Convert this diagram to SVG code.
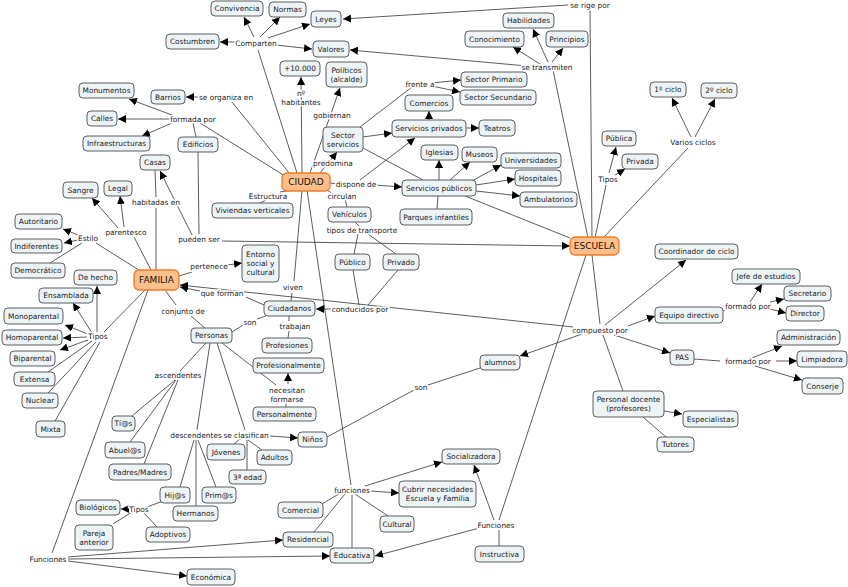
<svg xmlns="http://www.w3.org/2000/svg" width="848" height="587" viewBox="0 0 848 587">
<style>
.n rect{fill:#eef3f5;stroke:#5a5f60;stroke-width:1;}
.m rect{fill:#fdc08c;stroke:#f07b2a;stroke-width:1.3;}
text{font-family:"DejaVu Sans",Verdana,sans-serif;font-size:7.4px;fill:#222;text-anchor:middle;dominant-baseline:central;}
.m text{font-size:9px;fill:#111;}
.lb{paint-order:stroke;stroke:#fff;stroke-width:3px;stroke-linejoin:round;}
#connectors line{stroke:#333;stroke-width:0.8;}
#connectors line.a{marker-end:url(#ar);}
</style>
<defs>
<marker id="ar" viewBox="0 0 10 10" refX="10" refY="5" markerWidth="8" markerHeight="8" markerUnits="userSpaceOnUse" orient="auto"><path d="M0,0L10,5L0,10z" fill="#000"/></marker>
</defs>
<rect width="848" height="587" fill="#fff"/>
<g id="connectors">
<line x1="297" y1="173" x2="258" y2="50"/>
<line class="a" x1="254" y1="37" x2="244" y2="17"/>
<line class="a" x1="240" y1="42" x2="220" y2="42"/>
<line class="a" x1="260" y1="37" x2="280" y2="17"/>
<line class="a" x1="268" y1="38" x2="310" y2="24"/>
<line class="a" x1="276" y1="45" x2="312" y2="49"/>
<line x1="592" y1="238" x2="590" y2="9"/>
<line class="a" x1="568" y1="5" x2="343" y2="19"/>
<line x1="588" y1="238" x2="553" y2="70"/>
<line class="a" x1="548" y1="62" x2="533" y2="29"/>
<line class="a" x1="540" y1="64" x2="513" y2="47"/>
<line class="a" x1="552" y1="62" x2="563" y2="48"/>
<line class="a" x1="527" y1="66" x2="350" y2="50"/>
<line class="a" x1="302" y1="173" x2="301" y2="77"/>
<line class="a" x1="310" y1="173" x2="340" y2="88"/>
<line x1="290" y1="174" x2="232" y2="102"/>
<line class="a" x1="198" y1="97" x2="186" y2="97"/>
<line x1="285" y1="176" x2="200" y2="123"/>
<line class="a" x1="172" y1="115" x2="129" y2="99"/>
<line class="a" x1="170" y1="119" x2="118" y2="119"/>
<line class="a" x1="172" y1="123" x2="142" y2="136"/>
<line x1="193" y1="123" x2="196" y2="137"/>
<line class="a" x1="320" y1="173" x2="337" y2="152"/>
<line x1="330" y1="183" x2="338" y2="184"/>
<line class="a" x1="375" y1="185" x2="402" y2="187"/>
<line class="a" x1="360" y1="180" x2="415" y2="138"/>
<line class="a" x1="363" y1="137" x2="392" y2="133"/>
<line x1="360" y1="127" x2="412" y2="87"/>
<line class="a" x1="432" y1="83" x2="461" y2="80"/>
<line class="a" x1="432" y1="86" x2="460" y2="92"/>
<line x1="363" y1="148" x2="423" y2="180"/>
<line class="a" x1="429" y1="120" x2="429" y2="111"/>
<line class="a" x1="466" y1="128" x2="479" y2="128"/>
<line class="a" x1="439" y1="180" x2="439" y2="160"/>
<line class="a" x1="450" y1="180" x2="470" y2="162"/>
<line class="a" x1="470" y1="182" x2="501" y2="165"/>
<line class="a" x1="476" y1="185" x2="515" y2="179"/>
<line class="a" x1="476" y1="191" x2="520" y2="196"/>
<line x1="438" y1="196" x2="437" y2="209"/>
<line x1="465" y1="196" x2="570" y2="238"/>
<line x1="327" y1="190" x2="333" y2="194"/>
<line x1="345" y1="199" x2="347" y2="207"/>
<line x1="355" y1="222" x2="360" y2="227"/>
<line x1="358" y1="234" x2="354" y2="254"/>
<line x1="368" y1="234" x2="396" y2="254"/>
<line x1="353" y1="270" x2="359" y2="305"/>
<line x1="398" y1="270" x2="368" y2="305"/>
<line class="a" x1="333" y1="309" x2="316" y2="309"/>
<line x1="292" y1="190" x2="280" y2="192"/>
<line x1="266" y1="200" x2="260" y2="203"/>
<line x1="302" y1="190" x2="294" y2="281"/>
<line x1="292" y1="293" x2="291" y2="301"/>
<line x1="307" y1="190" x2="351" y2="485"/>
<line x1="352" y1="495" x2="352" y2="548"/>
<line x1="342" y1="492" x2="322" y2="504"/>
<line x1="345" y1="494" x2="314" y2="532"/>
<line x1="355" y1="494" x2="388" y2="516"/>
<line class="a" x1="371" y1="491" x2="399" y2="493"/>
<line class="a" x1="365" y1="486" x2="442" y2="462"/>
<line x1="586" y1="255" x2="499" y2="520"/>
<line class="a" x1="494" y1="520" x2="474" y2="465"/>
<line x1="499" y1="530" x2="499" y2="546"/>
<line class="a" x1="483" y1="527" x2="375" y2="556"/>
<line x1="148" y1="290" x2="52" y2="553"/>
<line class="a" x1="68" y1="557" x2="283" y2="540"/>
<line class="a" x1="68" y1="559" x2="330" y2="556"/>
<line class="a" x1="68" y1="561" x2="187" y2="576"/>
<line x1="156" y1="270" x2="156" y2="208"/>
<line x1="156" y1="197" x2="155" y2="170"/>
<line x1="151" y1="270" x2="134" y2="237"/>
<line class="a" x1="118" y1="228" x2="92" y2="198"/>
<line class="a" x1="124" y1="227" x2="120" y2="196"/>
<line x1="142" y1="272" x2="96" y2="243"/>
<line class="a" x1="78" y1="235" x2="63" y2="229"/>
<line class="a" x1="78" y1="240" x2="64" y2="243"/>
<line x1="82" y1="243" x2="50" y2="263"/>
<line class="a" x1="192" y1="235" x2="160" y2="171"/>
<line x1="198" y1="152" x2="199" y2="234"/>
<line class="a" x1="222" y1="241" x2="570" y2="246"/>
<line x1="179" y1="276" x2="192" y2="272"/>
<line class="a" x1="227" y1="265" x2="242" y2="263"/>
<line x1="264" y1="305" x2="246" y2="297"/>
<line class="a" x1="200" y1="291" x2="180" y2="287"/>
<line class="a" x1="573" y1="327" x2="180" y2="285"/>
<line x1="165" y1="290" x2="176" y2="305"/>
<line x1="191" y1="316" x2="205" y2="328"/>
<line x1="145" y1="290" x2="104" y2="332"/>
<line class="a" x1="97" y1="332" x2="97" y2="286"/>
<line class="a" x1="92" y1="333" x2="73" y2="303"/>
<line class="a" x1="88" y1="334" x2="65" y2="325"/>
<line class="a" x1="87" y1="337" x2="63" y2="338"/>
<line class="a" x1="88" y1="340" x2="60" y2="350"/>
<line x1="92" y1="341" x2="48" y2="372"/>
<line x1="96" y1="342" x2="48" y2="393"/>
<line x1="100" y1="342" x2="55" y2="421"/>
<line x1="232" y1="332" x2="243" y2="325"/>
<line x1="257" y1="319" x2="266" y2="316"/>
<line x1="289" y1="316" x2="289" y2="321"/>
<line x1="289" y1="331" x2="288" y2="338"/>
<line x1="222" y1="343" x2="276" y2="385"/>
<line class="a" x1="288" y1="384" x2="288" y2="373"/>
<line x1="286" y1="404" x2="286" y2="407"/>
<line x1="206" y1="343" x2="180" y2="371"/>
<line x1="175" y1="380" x2="132" y2="416"/>
<line x1="176" y1="380" x2="130" y2="442"/>
<line x1="178" y1="380" x2="144" y2="464"/>
<line x1="210" y1="343" x2="197" y2="430"/>
<line x1="194" y1="440" x2="180" y2="487"/>
<line x1="196" y1="440" x2="196" y2="506"/>
<line x1="198" y1="440" x2="216" y2="487"/>
<line x1="217" y1="343" x2="245" y2="430"/>
<line x1="240" y1="439" x2="234" y2="444"/>
<line x1="248" y1="440" x2="262" y2="450"/>
<line x1="247" y1="440" x2="247" y2="470"/>
<line class="a" x1="270" y1="436" x2="298" y2="438"/>
<line x1="327" y1="437" x2="414" y2="390"/>
<line x1="428" y1="385" x2="480" y2="368"/>
<line x1="163" y1="501" x2="147" y2="507"/>
<line class="a" x1="132" y1="509" x2="121" y2="509"/>
<line x1="132" y1="512" x2="113" y2="524"/>
<line x1="144" y1="513" x2="157" y2="527"/>
<line x1="592" y1="255" x2="600" y2="324"/>
<line class="a" x1="582" y1="334" x2="520" y2="356"/>
<line class="a" x1="628" y1="326" x2="655" y2="316"/>
<line class="a" x1="614" y1="335" x2="670" y2="353"/>
<line x1="603" y1="335" x2="623" y2="391"/>
<line class="a" x1="605" y1="325" x2="686" y2="260"/>
<line x1="723" y1="311" x2="728" y2="308"/>
<line class="a" x1="750" y1="302" x2="762" y2="284"/>
<line class="a" x1="770" y1="302" x2="784" y2="299"/>
<line class="a" x1="770" y1="309" x2="786" y2="313"/>
<line x1="694" y1="359" x2="720" y2="361"/>
<line class="a" x1="752" y1="358" x2="782" y2="346"/>
<line class="a" x1="776" y1="361" x2="797" y2="361"/>
<line class="a" x1="755" y1="366" x2="802" y2="380"/>
<line class="a" x1="664" y1="411" x2="682" y2="414"/>
<line x1="643" y1="417" x2="666" y2="437"/>
<line x1="595" y1="238" x2="606" y2="185"/>
<line class="a" x1="609" y1="173" x2="616" y2="147"/>
<line class="a" x1="615" y1="175" x2="625" y2="169"/>
<line x1="603" y1="238" x2="688" y2="148"/>
<line class="a" x1="691" y1="137" x2="672" y2="98"/>
<line class="a" x1="695" y1="137" x2="715" y2="99"/>
</g>
<g id="labels">
<text class="lb" x="256" y="43">Comparten</text>
<text class="lb" x="590" y="5">se rige por</text>
<text class="lb" x="547" y="67">se transmiten</text>
<text class="lb" x="301" y="93">nº</text>
<text class="lb" x="301" y="102">habitantes</text>
<text class="lb" x="332" y="115">gobiernan</text>
<text class="lb" x="226" y="97">se organiza en</text>
<text class="lb" x="193" y="119">formada por</text>
<text class="lb" x="333" y="163">predomina</text>
<text class="lb" x="420" y="84">frente a</text>
<text class="lb" x="356" y="184">dispone de</text>
<text class="lb" x="342" y="196">circulan</text>
<text class="lb" x="268" y="196">Estructura</text>
<text class="lb" x="156" y="202">habitadas en</text>
<text class="lb" x="126" y="232">parentesco</text>
<text class="lb" x="88" y="238">Estilo</text>
<text class="lb" x="199" y="239">pueden ser</text>
<text class="lb" x="362" y="230">tipos de transporte</text>
<text class="lb" x="209" y="266">pertenece</text>
<text class="lb" x="608" y="179">Tipos</text>
<text class="lb" x="693" y="142">Varios ciclos</text>
<text class="lb" x="293" y="287">viven</text>
<text class="lb" x="222" y="293">que forman</text>
<text class="lb" x="360" y="309">conducidos por</text>
<text class="lb" x="183" y="311">conjunto de</text>
<text class="lb" x="250" y="322">son</text>
<text class="lb" x="295" y="326">trabajan</text>
<text class="lb" x="98" y="336">Tipos</text>
<text class="lb" x="600" y="330">compuesto por</text>
<text class="lb" x="748" y="306">formado por</text>
<text class="lb" x="748" y="361">formado por</text>
<text class="lb" x="178" y="375">ascendentes</text>
<text class="lb" x="287" y="390">necesitan</text>
<text class="lb" x="287" y="399">formarse</text>
<text class="lb" x="421" y="387">son</text>
<text class="lb" x="196" y="435">descendentes</text>
<text class="lb" x="246" y="435">se clasifican</text>
<text class="lb" x="139" y="509">Tipos</text>
<text class="lb" x="352" y="490">funciones</text>
<text class="lb" x="496" y="525">Funciones</text>
<text class="lb" x="48" y="559">Funciones</text>
</g>
<g class="m" id="n-ciudad"><rect x="282" y="173" width="48" height="18" rx="5"/><text x="306" y="182">CIUDAD</text></g>
<g class="m" id="n-escuela"><rect x="570" y="237" width="49" height="18" rx="5"/><text x="594.5" y="246">ESCUELA</text></g>
<g class="m" id="n-familia"><rect x="134" y="270" width="45" height="20" rx="5"/><text x="156.5" y="280">FAMILIA</text></g>
<g class="n" id="n-convivencia"><rect x="211" y="1" width="52" height="15" rx="4"/><text x="237" y="8.5">Convivencia</text></g>
<g class="n" id="n-normas"><rect x="269" y="2" width="37" height="15" rx="4"/><text x="287.5" y="9.5">Normas</text></g>
<g class="n" id="n-leyes"><rect x="311" y="11" width="30" height="16" rx="4"/><text x="326" y="19">Leyes</text></g>
<g class="n" id="n-costumbren"><rect x="166" y="34" width="53" height="15" rx="4"/><text x="192.5" y="41.5">Costumbren</text></g>
<g class="n" id="n-valores"><rect x="313" y="41" width="36" height="16" rx="4"/><text x="331" y="49">Valores</text></g>
<g class="n" id="n-10000"><rect x="280" y="61" width="40" height="15" rx="4"/><text x="300" y="68.5">+10.000</text></g>
<g class="n" id="n-politicos"><rect x="326" y="62" width="41" height="25" rx="4"/><text x="346.5" y="70">Políticos</text><text x="346.5" y="79">(alcalde)</text></g>
<g class="n" id="n-monumentos"><rect x="79" y="83" width="55" height="15" rx="4"/><text x="106.5" y="90.5">Monumentos</text></g>
<g class="n" id="n-barrios"><rect x="151" y="90" width="34" height="14" rx="4"/><text x="168" y="97">Barrios</text></g>
<g class="n" id="n-calles"><rect x="87" y="111" width="30" height="15" rx="4"/><text x="102" y="118.5">Calles</text></g>
<g class="n" id="n-infra"><rect x="83" y="136" width="67" height="15" rx="4"/><text x="116.5" y="143.5">Infraestructuras</text></g>
<g class="n" id="n-edificios"><rect x="178" y="137" width="40" height="15" rx="4"/><text x="198" y="144.5">Edificios</text></g>
<g class="n" id="n-casas"><rect x="140" y="155" width="30" height="15" rx="4"/><text x="155" y="162.5">Casas</text></g>
<g class="n" id="n-sangre"><rect x="63" y="182" width="35" height="16" rx="4"/><text x="80.5" y="190">Sangre</text></g>
<g class="n" id="n-legal"><rect x="104" y="181" width="28" height="15" rx="4"/><text x="118" y="188.5">Legal</text></g>
<g class="n" id="n-viviendas"><rect x="212" y="203" width="81" height="15" rx="4"/><text x="252.5" y="210.5">Viviendas verticales</text></g>
<g class="n" id="n-autoritario"><rect x="15" y="214" width="47" height="15" rx="4"/><text x="38.5" y="221.5">Autoritario</text></g>
<g class="n" id="n-indiferentes"><rect x="11" y="239" width="51" height="14" rx="4"/><text x="36.5" y="246">Indiferentes</text></g>
<g class="n" id="n-democratico"><rect x="11" y="263" width="54" height="15" rx="4"/><text x="38" y="270.5">Democrático</text></g>
<g class="n" id="n-entorno"><rect x="242" y="245" width="37" height="37" rx="4"/><text x="260.5" y="254">Entorno</text><text x="260.5" y="263">social y</text><text x="260.5" y="272">cultural</text></g>
<g class="n" id="n-dehecho"><rect x="74" y="270" width="43" height="15" rx="4"/><text x="95.5" y="277.5">De hecho</text></g>
<g class="n" id="n-ensamblada"><rect x="39" y="288" width="54" height="15" rx="4"/><text x="66" y="295.5">Ensamblada</text></g>
<g class="n" id="n-monoparental"><rect x="4" y="308" width="59" height="16" rx="4"/><text x="33.5" y="316">Monoparental</text></g>
<g class="n" id="n-homoparental"><rect x="2" y="330" width="60" height="15" rx="4"/><text x="32" y="337.5">Homoparental</text></g>
<g class="n" id="n-biparental"><rect x="10" y="351" width="45" height="15" rx="4"/><text x="32.5" y="358.5">Biparental</text></g>
<g class="n" id="n-extensa"><rect x="14" y="372" width="41" height="14" rx="4"/><text x="34.5" y="379">Extensa</text></g>
<g class="n" id="n-nuclear"><rect x="22" y="393" width="36" height="15" rx="4"/><text x="40" y="400.5">Nuclear</text></g>
<g class="n" id="n-mixta"><rect x="36" y="421" width="29" height="16" rx="4"/><text x="50.5" y="429">Mixta</text></g>
<g class="n" id="n-ciudadanos"><rect x="264" y="301" width="51" height="15" rx="4"/><text x="289.5" y="308.5">Ciudadanos</text></g>
<g class="n" id="n-personas"><rect x="191" y="328" width="41" height="15" rx="4"/><text x="211.5" y="335.5">Personas</text></g>
<g class="n" id="n-profesiones"><rect x="262" y="338" width="50" height="15" rx="4"/><text x="287" y="345.5">Profesiones</text></g>
<g class="n" id="n-profesionalmente"><rect x="253" y="358" width="71" height="15" rx="4"/><text x="288.5" y="365.5">Profesionalmente</text></g>
<g class="n" id="n-personalmente"><rect x="253" y="407" width="63" height="14" rx="4"/><text x="284.5" y="414">Personalmente</text></g>
<g class="n" id="n-tias"><rect x="112" y="416" width="23" height="15" rx="4"/><text x="123.5" y="423.5">Tí@s</text></g>
<g class="n" id="n-abuelos"><rect x="105" y="442" width="40" height="16" rx="4"/><text x="125" y="450">Abuel@s</text></g>
<g class="n" id="n-ninos"><rect x="298" y="432" width="29" height="15" rx="4"/><text x="312.5" y="439.5">Niños</text></g>
<g class="n" id="n-jovenes"><rect x="207" y="444" width="38" height="16" rx="4"/><text x="226" y="452">Jóvenes</text></g>
<g class="n" id="n-adultos"><rect x="257" y="450" width="35" height="15" rx="4"/><text x="274.5" y="457.5">Adultos</text></g>
<g class="n" id="n-padres"><rect x="109" y="464" width="62" height="16" rx="4"/><text x="140" y="472">Padres/Madres</text></g>
<g class="n" id="n-3edad"><rect x="229" y="470" width="37" height="14" rx="4"/><text x="247.5" y="477">3ª edad</text></g>
<g class="n" id="n-hijos"><rect x="160" y="487" width="30" height="16" rx="4"/><text x="175" y="495">Hij@s</text></g>
<g class="n" id="n-primos"><rect x="202" y="487" width="34" height="16" rx="4"/><text x="219" y="495">Prim@s</text></g>
<g class="n" id="n-biologicos"><rect x="76" y="500" width="44" height="15" rx="4"/><text x="98" y="507.5">Biológicos</text></g>
<g class="n" id="n-hermanos"><rect x="173" y="506" width="45" height="15" rx="4"/><text x="195.5" y="513.5">Hermanos</text></g>
<g class="n" id="n-adoptivos"><rect x="146" y="527" width="44" height="15" rx="4"/><text x="168" y="534.5">Adoptivos</text></g>
<g class="n" id="n-pareja"><rect x="75" y="525" width="38" height="25" rx="4"/><text x="94" y="533">Pareja</text><text x="94" y="542">anterior</text></g>
<g class="n" id="n-comercial"><rect x="278" y="502" width="45" height="16" rx="4"/><text x="300.5" y="510">Comercial</text></g>
<g class="n" id="n-residencial"><rect x="283" y="532" width="50" height="15" rx="4"/><text x="308" y="539.5">Residencial</text></g>
<g class="n" id="n-educativa"><rect x="330" y="548" width="44" height="15" rx="4"/><text x="352" y="555.5">Educativa</text></g>
<g class="n" id="n-economica"><rect x="187" y="569" width="48" height="16" rx="4"/><text x="211" y="577">Económica</text></g>
<g class="n" id="n-cultural"><rect x="380" y="516" width="34" height="16" rx="4"/><text x="397" y="524">Cultural</text></g>
<g class="n" id="n-cubrir"><rect x="399" y="481" width="77" height="26" rx="4"/><text x="437.5" y="489.5">Cubrir necesidades</text><text x="437.5" y="498.5">Escuela y Familia</text></g>
<g class="n" id="n-socializadora"><rect x="442" y="449" width="58" height="15" rx="4"/><text x="471" y="456.5">Socializadora</text></g>
<g class="n" id="n-instructiva"><rect x="475" y="546" width="49" height="16" rx="4"/><text x="499.5" y="554">Instructiva</text></g>
<g class="n" id="n-alumnos"><rect x="480" y="355" width="40" height="15" rx="4"/><text x="500" y="362.5">alumnos</text></g>
<g class="n" id="n-docente"><rect x="593" y="391" width="71" height="26" rx="4"/><text x="628.5" y="399.5">Personal docente</text><text x="628.5" y="408.5">(profesores)</text></g>
<g class="n" id="n-especialistas"><rect x="683" y="411" width="55" height="16" rx="4"/><text x="710.5" y="419">Especialistas</text></g>
<g class="n" id="n-tutores"><rect x="657" y="437" width="37" height="15" rx="4"/><text x="675.5" y="444.5">Tutores</text></g>
<g class="n" id="n-equipo"><rect x="655" y="307" width="68" height="16" rx="4"/><text x="689" y="315">Equipo directivo</text></g>
<g class="n" id="n-pas"><rect x="670" y="350" width="24" height="15" rx="4"/><text x="682" y="357.5">PAS</text></g>
<g class="n" id="n-secretario"><rect x="784" y="286" width="47" height="15" rx="4"/><text x="807.5" y="293.5">Secretario</text></g>
<g class="n" id="n-director"><rect x="786" y="306" width="38" height="15" rx="4"/><text x="805" y="313.5">Director</text></g>
<g class="n" id="n-admin"><rect x="777" y="330" width="63" height="15" rx="4"/><text x="808.5" y="337.5">Administración</text></g>
<g class="n" id="n-limpiadora"><rect x="797" y="351" width="50" height="16" rx="4"/><text x="822" y="359">Limpiadora</text></g>
<g class="n" id="n-conserje"><rect x="802" y="378" width="41" height="16" rx="4"/><text x="822.5" y="386">Conserje</text></g>
<g class="n" id="n-jefe"><rect x="732" y="269" width="68" height="15" rx="4"/><text x="766" y="276.5">Jefe de estudios</text></g>
<g class="n" id="n-coord"><rect x="655" y="244" width="83" height="15" rx="4"/><text x="696.5" y="251.5">Coordinador de ciclo</text></g>
<g class="n" id="n-publica"><rect x="602" y="131" width="34" height="15" rx="4"/><text x="619" y="138.5">Pública</text></g>
<g class="n" id="n-privada"><rect x="622" y="154" width="36" height="15" rx="4"/><text x="640" y="161.5">Privada</text></g>
<g class="n" id="n-ciclo1"><rect x="650" y="82" width="36" height="15" rx="4"/><text x="668" y="89.5">1º ciclo</text></g>
<g class="n" id="n-ciclo2"><rect x="701" y="83" width="36" height="15" rx="4"/><text x="719" y="90.5">2º ciclo</text></g>
<g class="n" id="n-habilidades"><rect x="503" y="13" width="51" height="15" rx="4"/><text x="528.5" y="20.5">Habilidades</text></g>
<g class="n" id="n-conocimiento"><rect x="465" y="31" width="59" height="16" rx="4"/><text x="494.5" y="39">Conocimiento</text></g>
<g class="n" id="n-principios"><rect x="546" y="31" width="42" height="16" rx="4"/><text x="567" y="39">Principios</text></g>
<g class="n" id="n-primario"><rect x="461" y="72" width="66" height="15" rx="4"/><text x="494" y="79.5">Sector Primario</text></g>
<g class="n" id="n-secundario"><rect x="460" y="90" width="76" height="15" rx="4"/><text x="498" y="97.5">Sector Secundario</text></g>
<g class="n" id="n-comercios"><rect x="405" y="95" width="48" height="16" rx="4"/><text x="429" y="103">Comercios</text></g>
<g class="n" id="n-sector"><rect x="323" y="127" width="40" height="25" rx="4"/><text x="343" y="135">Sector</text><text x="343" y="144">servicios</text></g>
<g class="n" id="n-privados"><rect x="392" y="120" width="74" height="17" rx="4"/><text x="429" y="128.5">Servicios privados</text></g>
<g class="n" id="n-teatros"><rect x="479" y="120" width="36" height="16" rx="4"/><text x="497" y="128">Teatros</text></g>
<g class="n" id="n-iglesias"><rect x="421" y="145" width="37" height="15" rx="4"/><text x="439.5" y="152.5">Iglesias</text></g>
<g class="n" id="n-museos"><rect x="462" y="147" width="35" height="15" rx="4"/><text x="479.5" y="154.5">Museos</text></g>
<g class="n" id="n-universidades"><rect x="501" y="153" width="60" height="15" rx="4"/><text x="531" y="160.5">Universidades</text></g>
<g class="n" id="n-hospitales"><rect x="515" y="170" width="46" height="16" rx="4"/><text x="538" y="178">Hospitales</text></g>
<g class="n" id="n-ambulatorios"><rect x="520" y="192" width="57" height="15" rx="4"/><text x="548.5" y="199.5">Ambulatorios</text></g>
<g class="n" id="n-publicos"><rect x="402" y="180" width="74" height="16" rx="4"/><text x="439" y="188">Servicios públicos</text></g>
<g class="n" id="n-parques"><rect x="400" y="209" width="72" height="16" rx="4"/><text x="436" y="217">Parques infantiles</text></g>
<g class="n" id="n-vehiculos"><rect x="328" y="207" width="43" height="15" rx="4"/><text x="349.5" y="214.5">Vehículos</text></g>
<g class="n" id="n-publico"><rect x="335" y="254" width="35" height="16" rx="4"/><text x="352.5" y="262">Público</text></g>
<g class="n" id="n-privado"><rect x="383" y="254" width="36" height="16" rx="4"/><text x="401" y="262">Privado</text></g>
</svg>
